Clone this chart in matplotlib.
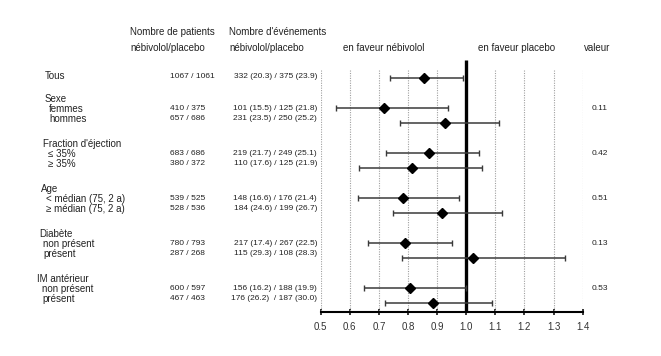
import numpy as np
from matplotlib import pyplot as plt

plt.rcParams["font.family"] = ["Liberation Sans", "DejaVu Sans"]

# data
groups = ["Tous", "Sexe", "Fraction d'éjection", "Age", "Diabète", "IM antérieur"]
sub_labels = [
    [],
    ["femmes", "hommes"],
    ["≤ 35%", "≥ 35%"],
    ["< médian (75, 2 a)", "≥ médian (75, 2 a)"],
    ["non présent", "présent"],
    ["non présent", "présent"],
]
patients = [
    ["1067 / 1061"],
    ["410 / 375", "657 / 686"],
    ["683 / 686", "380 / 372"],
    ["539 / 525", "528 / 536"],
    ["780 / 793", "287 / 268"],
    ["600 / 597", "467 / 463"],
]
events = [
    ["332 (20.3) / 375 (23.9)"],
    ["101 (15.5) / 125 (21.8)", "231 (23.5) / 250 (25.2)"],
    ["219 (21.7) / 249 (25.1)", "110 (17.6) / 125 (21.9)"],
    ["148 (16.6) / 176 (21.4)", "184 (24.6) / 199 (26.7)"],
    ["217 (17.4) / 267 (22.5)", "115 (29.3) / 108 (28.3)"],
    ["156 (16.2) / 188 (19.9)", "176 (26.2)  / 187 (30.0)"],
]
hr = [[0.855], [0.718, 0.927], [0.871, 0.815], [0.784, 0.916], [0.791, 1.023], [0.807, 0.887]]
ci_low = [[0.738], [0.551, 0.774], [0.726, 0.632], [0.629, 0.750], [0.661, 0.778], [0.649, 0.721]]
ci_high = [[0.990], [0.936, 1.112], [1.045, 1.054], [0.976, 1.123], [0.950, 1.340], [1.000, 1.090]]
p_values = ["", "0.11", "0.42", "0.51", "0.13", "0.53"]
ticks = [0.5, 0.6, 0.7, 0.8, 0.9, 1.0, 1.1, 1.2, 1.3, 1.4]

W, H = 661, 356
fig = plt.figure(figsize=(W / 100, H / 100), dpi=100)

# overlay axes in pixel coordinates for the text table
tx = fig.add_axes([0, 0, 1, 1])
tx.set_xlim(0, W)
tx.set_ylim(H, 0)
tx.axis("off")

# forest axes
x0, x1, y_axis = 320.7, 582.7, 311.7
ax = fig.add_axes([x0 / W, (H - y_axis) / H, (x1 - x0) / W, y_axis / H])
ax.set_xlim(0.5, 1.4)
ax.set_ylim(y_axis, 0)
ax.patch.set_alpha(0)
for s in ["top", "left", "right"]:
    ax.spines[s].set_visible(False)
ax.spines["bottom"].set_linewidth(1.5)
ax.set_yticks([])
ax.set_xticks(ticks)
ax.set_xticklabels([f"{t:.1f}" for t in ticks], fontsize=7, color="#333333")
ax.tick_params(axis="x", direction="inout", length=5, width=1.1, pad=5)

ax.vlines(ticks, 70, y_axis, colors="#a0a0a0", linestyles=(0, (1, 1.2)), linewidth=0.8)
ax.vlines(1.0, 60, y_axis, colors="black", linewidth=2.4, zorder=4)

# headers
hdr = dict(fontsize=7, color="#222222", va="center")
tx.text(130, 32, "Nombre de patients", **hdr)
tx.text(130, 48, "nébivolol/placebo", **hdr)
tx.text(229, 32, "Nombre d'événements", **hdr)
tx.text(229, 48, "nébivolol/placebo", **hdr)
tx.text(384, 48, "en faveur nébivolol", ha="center", **hdr)
tx.text(517, 48, "en faveur placebo", ha="center", **hdr)
tx.text(597, 48, "valeur", ha="center", **hdr)

# row layout
head_x = [45, 45, 43, 41, 39, 37]
sub_x = [45, 49, 48, 46, 43, 42]
lab = dict(fontsize=7, color="#222222", va="center")
num = dict(fontsize=6, color="#222222", va="center")

for g, name in enumerate(groups):
    if g == 0:
        marker_y = [77.5]
        text_y = [76]
        tx.text(head_x[g], text_y[0], name, **lab)
    else:
        first = 108.3 + 45 * (g - 1)
        marker_y = [first, first + 15]
        text_y = [first + 0.5, first + 10.5]
        tx.text(head_x[g], first - 9, name, **lab)
        for lbl, ty in zip(sub_labels[g], text_y):
            tx.text(sub_x[g], ty, lbl, **lab)
    for k, ty in enumerate(text_y):
        tx.text(170, ty, patients[g][k], **num)
        tx.text(317, ty, events[g][k], ha="right", **num)
    if p_values[g]:
        tx.text(592, marker_y[0], p_values[g], **num)

    h = np.array(hr[g])
    lo = np.array(ci_low[g])
    hi = np.array(ci_high[g])
    ax.errorbar(h, marker_y, xerr=[h - lo, hi - h], fmt="D", color="black",
                ecolor="#3a3a3a", elinewidth=1.1, capsize=2, capthick=1,
                markersize=5.5, zorder=5)

fig.savefig("out.png", dpi=100)
